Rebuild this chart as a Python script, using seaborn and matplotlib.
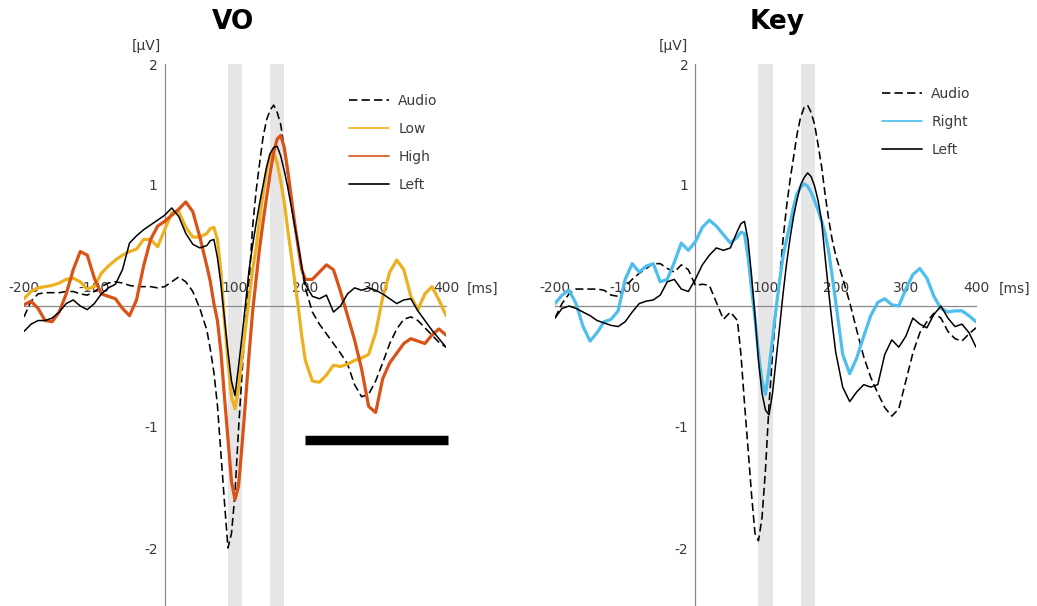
import numpy as np
import pandas as pd
import matplotlib
matplotlib.use("Agg")
import matplotlib.pyplot as plt
import seaborn as sns

# ---------------- data ----------------
# time points (ms): 10 ms steps, 5 ms steps around the fast components
times = ([-200, -190, -180, -170, -160, -150, -140, -130, -120, -110,
          -100, -90, -80, -70, -60, -50, -40, -30, -20, -10,
          0, 10, 20, 30, 40, 50]
         + [60, 65, 70, 75, 80, 85, 90, 95, 100, 105,
            110, 115, 120, 125, 130, 135, 140, 145, 150, 155,
            160, 165, 170, 175, 180, 185, 190, 195, 200]
         + [210, 220, 230, 240, 250, 260, 270, 280, 290, 300,
            310, 320, 330, 340, 350, 360, 370, 380, 390, 400])

vo_audio = ([-0.09, 0.04, 0.10, 0.11, 0.11, 0.11, 0.12, 0.12, 0.10, 0.09,
             0.12, 0.16, 0.19, 0.20, 0.19, 0.17, 0.16, 0.16, 0.16, 0.15,
             0.16, 0.20, 0.24, 0.20, 0.12, -0.02]
            + [-0.20, -0.36, -0.55, -0.82, -1.22, -1.62, -2.00, -1.88, -1.55, -1.02,
               -0.56, -0.12, 0.20, 0.65, 0.95, 1.18, 1.40, 1.54, 1.62, 1.66,
               1.60, 1.50, 1.30, 1.08, 0.85, 0.65, 0.47, 0.30, 0.15]
            + [-0.05, -0.15, -0.23, -0.31, -0.39, -0.48, -0.65, -0.75, -0.73, -0.62,
               -0.47, -0.31, -0.19, -0.11, -0.09, -0.12, -0.18, -0.24, -0.30, -0.34])
vo_low = ([0.06, 0.12, 0.15, 0.16, 0.17, 0.19, 0.22, 0.23, 0.20, 0.14,
           0.16, 0.27, 0.33, 0.38, 0.42, 0.45, 0.47, 0.55, 0.55, 0.49,
           0.63, 0.77, 0.78, 0.65, 0.57, 0.57]
          + [0.60, 0.64, 0.65, 0.55, 0.28, -0.12, -0.45, -0.75, -0.85, -0.68,
             -0.43, -0.18, 0.06, 0.30, 0.48, 0.72, 0.93, 1.12, 1.25, 1.27,
             1.18, 1.03, 0.86, 0.63, 0.42, 0.20, -0.01, -0.25, -0.45]
          + [-0.62, -0.63, -0.57, -0.49, -0.50, -0.48, -0.45, -0.43, -0.40, -0.22,
             0.07, 0.28, 0.38, 0.30, 0.08, -0.03, 0.10, 0.16, 0.05, -0.08])
vo_high = ([0.01, 0.04, -0.02, -0.12, -0.13, -0.05, 0.10, 0.30, 0.45, 0.42,
            0.23, 0.10, 0.08, 0.06, -0.02, -0.08, 0.05, 0.33, 0.55, 0.66,
            0.70, 0.75, 0.80, 0.86, 0.78, 0.57]
           + [0.33, 0.20, 0.02, -0.12, -0.38, -0.75, -1.10, -1.45, -1.60, -1.49,
              -1.15, -0.78, -0.40, -0.05, 0.22, 0.48, 0.70, 0.90, 1.10, 1.27,
              1.38, 1.41, 1.31, 1.12, 0.90, 0.68, 0.48, 0.30, 0.22]
           + [0.22, 0.28, 0.34, 0.30, 0.12, -0.08, -0.28, -0.52, -0.83, -0.88,
              -0.60, -0.47, -0.39, -0.31, -0.27, -0.29, -0.31, -0.24, -0.19, -0.24])
vo_left = ([-0.21, -0.15, -0.12, -0.12, -0.10, -0.05, 0.02, 0.05, 0.00, -0.03,
            0.02, 0.10, 0.15, 0.18, 0.30, 0.52, 0.58, 0.63, 0.67, 0.71,
            0.75, 0.81, 0.74, 0.60, 0.51, 0.48]
           + [0.50, 0.54, 0.55, 0.40, 0.18, -0.10, -0.38, -0.62, -0.74, -0.50,
              -0.25, 0.02, 0.30, 0.50, 0.68, 0.85, 1.00, 1.15, 1.26, 1.31,
              1.32, 1.24, 1.12, 0.98, 0.82, 0.66, 0.50, 0.32, 0.18]
           + [0.08, 0.06, 0.09, -0.05, 0.00, 0.10, 0.15, 0.13, 0.15, 0.13,
              0.10, 0.06, 0.02, 0.05, 0.06, -0.04, -0.12, -0.20, -0.27, -0.34])

key_audio = ([-0.10, 0.02, 0.10, 0.14, 0.14, 0.14, 0.14, 0.13, 0.09, 0.08,
              0.16, 0.22, 0.27, 0.31, 0.35, 0.35, 0.31, 0.28, 0.34, 0.30,
              0.17, 0.18, 0.17, 0.03, -0.11, -0.05]
             + [-0.12, -0.40, -0.80, -1.17, -1.55, -1.88, -1.94, -1.75, -1.35, -0.82,
                -0.40, -0.05, 0.22, 0.55, 0.82, 1.04, 1.23, 1.42, 1.56, 1.64,
                1.66, 1.60, 1.50, 1.33, 1.15, 0.92, 0.72, 0.55, 0.42]
             + [0.23, 0.03, -0.20, -0.42, -0.59, -0.72, -0.84, -0.91, -0.85, -0.62,
                -0.39, -0.22, -0.13, -0.06, -0.10, -0.21, -0.27, -0.29, -0.23, -0.18])
key_right = ([0.02, 0.09, 0.13, 0.02, -0.17, -0.29, -0.22, -0.13, -0.11, -0.04,
              0.22, 0.35, 0.28, 0.33, 0.35, 0.20, 0.22, 0.36, 0.52, 0.46,
              0.53, 0.65, 0.71, 0.66, 0.59, 0.52]
             + [0.57, 0.61, 0.60, 0.41, 0.15, -0.10, -0.39, -0.62, -0.73, -0.52,
                -0.27, -0.02, 0.20, 0.41, 0.55, 0.68, 0.82, 0.93, 0.98, 1.01,
                0.99, 0.94, 0.87, 0.79, 0.70, 0.60, 0.45, 0.25, 0.04]
             + [-0.40, -0.56, -0.43, -0.25, -0.08, 0.03, 0.06, 0.01, 0.00, 0.14,
                0.26, 0.31, 0.23, 0.08, -0.02, -0.05, -0.04, -0.04, -0.08, -0.13])
key_left = ([-0.10, -0.02, 0.00, -0.02, -0.05, -0.08, -0.12, -0.14, -0.16, -0.17,
             -0.13, -0.05, 0.02, 0.04, 0.05, 0.09, 0.20, 0.22, 0.14, 0.12,
             0.22, 0.34, 0.42, 0.48, 0.46, 0.48]
            + [0.62, 0.68, 0.70, 0.55, 0.26, -0.08, -0.45, -0.72, -0.86, -0.90,
               -0.72, -0.45, -0.18, 0.10, 0.35, 0.56, 0.74, 0.88, 1.00, 1.06,
               1.10, 1.07, 0.99, 0.87, 0.70, 0.40, 0.12, -0.14, -0.38]
            + [-0.67, -0.79, -0.71, -0.65, -0.67, -0.65, -0.40, -0.28, -0.34, -0.25,
               -0.10, -0.15, -0.18, -0.07, 0.00, -0.10, -0.17, -0.15, -0.22, -0.34])

shaded_windows = [(90, 110), (150, 170)]
sig_start, sig_end, sig_level = 200, 403, -1.11

xticks = [-200, -100, 100, 200, 300, 400]
xtick_labels = ["-200", "-100", "100", "200", "300", "400"]
yticks = [-2, -1, 1, 2]
ytick_labels = ["-2", "-1", "1", "2"]
titles = ["VO", "Key"]

# ---------------- style ----------------
sns.set_style("white")
plt.rcParams['font.family'] = ['DejaVu Sans']
plt.rcParams['axes.unicode_minus'] = False

C_LOW = "#EDB120"
C_HIGH = "#D95319"
C_RIGHT = "#4DBEEE"
AXC = "#8a8a8a"
TXC = "#3a3a3a"
BAND = "#e6e6e6"
DASH = (0, (5, 2.5))

W, H = 1037, 606
fig = plt.figure(figsize=(W / 100, H / 100), dpi=100)
fig.patch.set_facecolor("white")

YMIN = -300 / 121.0


def make_axes(x0, x1):
    return fig.add_axes([x0 / W, 0, (x1 - x0) / W, (H - 64) / H])


def style(ax):
    ax.set_xlim(-200, 400)
    ax.set_ylim(YMIN, 2)
    ax.set_facecolor("none")
    for s in ["top", "right"]:
        ax.spines[s].set_visible(False)
    ax.spines["left"].set_position(("data", 0))
    ax.spines["bottom"].set_position(("data", 0))
    for s in ["left", "bottom"]:
        ax.spines[s].set_color(AXC)
        ax.spines[s].set_linewidth(0.9)
        ax.spines[s].set_zorder(1.6)
    ax.set_xticks(xticks)
    ax.set_xticklabels(xtick_labels)
    ax.set_yticks(yticks)
    ax.set_yticklabels(ytick_labels)
    ax.tick_params(axis="x", direction="in", length=3.5, width=0.9, color=AXC,
                   pad=-18, labelsize=10, labelcolor=TXC)
    ax.tick_params(axis="y", direction="in", length=3.5, width=0.9, color=AXC,
                   pad=5, labelsize=10, labelcolor=TXC)
    for a, b in shaded_windows:
        ax.axvspan(a, b, color=BAND, lw=0, zorder=0.5)


def finish_legend(ax, x, y):
    leg = ax.legend(loc="upper left", bbox_to_anchor=(x / W, 1 - y / H),
                    bbox_transform=fig.transFigure, frameon=False, fontsize=10,
                    handlelength=2.9, handletextpad=0.65, labelspacing=1.0,
                    borderpad=0, borderaxespad=0)
    for t in leg.get_texts():
        t.set_color(TXC)
    for h in leg.legend_handles:
        h.set_linewidth(1.2)
    return leg


# ---------------- left panel (VO) ----------------
ax1 = make_axes(24, 446)
style(ax1)
sns.lineplot(x=times, y=vo_audio, ax=ax1, color="k", lw=1.15, linestyle=DASH,
             label="Audio", errorbar=None, legend=False)
sns.lineplot(x=times, y=vo_low, ax=ax1, color=C_LOW, lw=2.3,
             label="Low", errorbar=None, legend=False)
sns.lineplot(x=times, y=vo_high, ax=ax1, color=C_HIGH, lw=2.3,
             label="High", errorbar=None, legend=False)
sns.lineplot(x=times, y=vo_left, ax=ax1, color="k", lw=1.1,
             label="Left", errorbar=None, legend=False)
ax1.plot([sig_start, sig_end], [sig_level, sig_level], color="k", lw=6.8,
         solid_capstyle="butt", clip_on=False)
ax1.set_xlabel("")
ax1.set_ylabel("")
finish_legend(ax1, 349, 94)

# ---------------- right panel (Key) ----------------
ax2 = make_axes(555, 976)
style(ax2)
sns.lineplot(x=times, y=key_audio, ax=ax2, color="k", lw=1.15, linestyle=DASH,
             label="Audio", errorbar=None, legend=False)
sns.lineplot(x=times, y=key_right, ax=ax2, color=C_RIGHT, lw=2.3,
             label="Right", errorbar=None, legend=False)
sns.lineplot(x=times, y=key_left, ax=ax2, color="k", lw=1.1,
             label="Left", errorbar=None, legend=False)
ax2.set_xlabel("")
ax2.set_ylabel("")
finish_legend(ax2, 882, 87)

# ---------------- texts ----------------
fig.text(233 / W, 1 - 22 / H, titles[0], ha="center", va="center",
         fontsize=19, fontweight="bold", color="k")
fig.text(777 / W, 1 - 22 / H, titles[1], ha="center", va="center",
         fontsize=19, fontweight="bold", color="k")
for xc in (146, 673):
    fig.text(xc / W, 1 - 46 / H, "[µV]", ha="center", va="center",
             fontsize=10, color=TXC)
for xc in (483, 1015):
    fig.text(xc / W, 1 - 289 / H, "[ms]", ha="center", va="center",
             fontsize=10, color=TXC)

fig.savefig("out.png", dpi=100, facecolor="white")
